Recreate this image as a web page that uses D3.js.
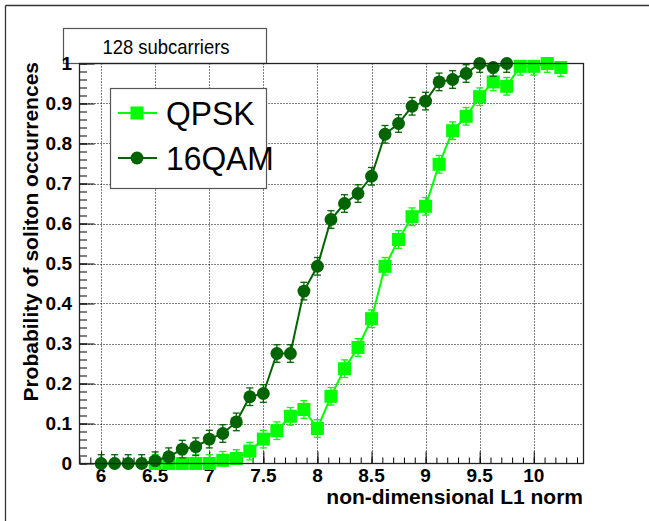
<!DOCTYPE html>
<html><head><meta charset="utf-8">
<script src="https://cdn.jsdelivr.net/npm/d3@7"></script>
<style>body{margin:0;background:#fff}svg{display:block}text{font-family:"Liberation Sans",Arial,Helvetica,sans-serif}</style>
</head><body><svg id="c" width="649" height="521"></svg>
<script>
const xQam16 = [6,6.125,6.25,6.375,6.5,6.625,6.75,6.875,7,7.125,7.25,7.375,7.5,7.625,7.75,7.875,8,8.125,8.25,8.375,8.5,8.625,8.75,8.875,9,9.125,9.25,9.375,9.5,9.625,9.75];
const yQam16 = [0,0,0,0,0.007,0.017,0.036,0.042,0.061,0.075,0.104,0.167,0.175,0.275,0.275,0.431,0.493,0.61,0.65,0.675,0.718,0.823,0.85,0.893,0.906,0.954,0.96,0.975,1.0,0.99,1.0];
const xQpsk = [6.5,6.625,6.75,6.875,7,7.125,7.25,7.375,7.5,7.625,7.75,7.875,8,8.125,8.25,8.375,8.5,8.625,8.75,8.875,9,9.125,9.25,9.375,9.5,9.625,9.75,9.875,10,10.125,10.25];
const yQpsk = [0,0,0,0,0,0.008,0.0125,0.031,0.061,0.082,0.118,0.135,0.0875,0.168,0.237,0.29,0.362,0.493,0.56,0.617,0.643,0.748,0.832,0.868,0.917,0.954,0.943,0.993,0.993,1.0,0.99];
const errBar = 0.022;
const xTicks = [6,6.5,7,7.5,8,8.5,9,9.5,10];
const xTickLabels = ["6","6.5","7","7.5","8","8.5","9","9.5","10"];
const yTicks = [0,0.1,0.2,0.3,0.4,0.5,0.6,0.7,0.8,0.9,1];
const yTickLabels = ["0","0.1","0.2","0.3","0.4","0.5","0.6","0.7","0.8","0.9","1"];
const seriesNames = ["QPSK","16QAM"];
const titleText = "128 subcarriers";
const xTitle = "non-dimensional L1 norm";
const yTitle = "Probability of soliton occurrences";

const svg = d3.select("#c");
const L = 79.5, R = 583.5, T = 63.5, B = 463.5;
const x = d3.scaleLinear().domain([5.8, 10.46]).range([L, R]);
const y = d3.scaleLinear().domain([0, 1]).range([B, T]);

// canvas border (top & left)
svg.append("line").attr("x1",5.5).attr("x2",649).attr("y1",5.5).attr("y2",5.5).attr("stroke","#333").attr("stroke-width",1.3);
svg.append("line").attr("x1",5.5).attr("x2",5.5).attr("y1",5.5).attr("y2",521).attr("stroke","#333").attr("stroke-width",1.3);

// title box
svg.append("rect").attr("x",63.5).attr("y",28.5).attr("width",203).attr("height",35).attr("fill","#fff").attr("stroke","#555").attr("stroke-width",1.2);
svg.append("text").attr("transform","translate(166,54) scale(0.9,1)").attr("text-anchor","middle").attr("font-size",20.5).text(titleText);

// grid
const grid = svg.append("g").attr("stroke","#000").attr("stroke-width",1).attr("stroke-dasharray","1,2");
xTicks.forEach(v=>grid.append("line").attr("x1",Math.round(x(v))+0.5).attr("x2",Math.round(x(v))+0.5).attr("y1",T).attr("y2",B));
yTicks.slice(1,-1).forEach(v=>grid.append("line").attr("x1",L).attr("x2",R).attr("y1",Math.round(y(v))+0.5).attr("y2",Math.round(y(v))+0.5));

// axes with d3
const xMinor = d3.range(58,105).map(i=>i/10).filter(v=>v>=5.8&&v<=10.46);
const yMinor = d3.range(0,51).map(i=>i/50);
const gx = svg.append("g").attr("transform",`translate(0,${B})`);
gx.call(d3.axisTop(x).tickValues(xMinor).tickSize(6).tickFormat(""));
gx.append("g").call(d3.axisTop(x).tickValues(xTicks).tickSize(12).tickFormat(""));
gx.selectAll(".domain").remove();
const gy = svg.append("g").attr("transform",`translate(${L},0)`);
gy.call(d3.axisRight(y).tickValues(yMinor).tickSize(7.5).tickFormat(""));
gy.append("g").call(d3.axisRight(y).tickValues(yTicks).tickSize(15).tickFormat(""));
gy.selectAll(".domain").remove();
svg.selectAll(".tick line").attr("stroke","#000").attr("stroke-width",1);

// tick labels
svg.append("g").selectAll("text").data(xTicks).join("text")
  .attr("x",d=>x(d)).attr("y",482).attr("text-anchor","middle")
  .attr("font-size",19).attr("font-weight","bold").text((d,i)=>xTickLabels[i]);
svg.append("g").selectAll("text").data(yTicks).join("text")
  .attr("x",72).attr("y",d=>y(d)+6.8).attr("text-anchor","end")
  .attr("font-size",19).attr("font-weight","bold").text((d,i)=>yTickLabels[i]);

// axis titles
svg.append("text").attr("x",583).attr("y",504).attr("text-anchor","end")
  .attr("font-size",21).attr("font-weight","bold").text(xTitle);
svg.append("text").attr("transform","translate(37.5,62) rotate(-90)").attr("text-anchor","end")
  .attr("font-size",21).attr("font-weight","bold").text(yTitle);

// series
const colQ = "#00ff00", col16 = "#006400";
function drawSeries(xs, ys, color, marker){
  const g = svg.append("g");
  const pts = xs.map((v,i)=>({x:v,y:ys[i]}));
  g.append("path").datum(pts).attr("fill","none").attr("stroke",color).attr("stroke-width",2)
    .attr("d",d3.line().x(d=>x(d.x)).y(d=>y(d.y)));
  const eb = g.append("g").attr("stroke",color).attr("stroke-width",1.3);
  pts.forEach(p=>{
    const lo = Math.max(0,p.y-errBar), hi = Math.min(1,p.y+errBar);
    eb.append("line").attr("x1",x(p.x)).attr("x2",x(p.x)).attr("y1",y(lo)).attr("y2",y(hi));
    if (hi>p.y) eb.append("line").attr("x1",x(p.x)-3.5).attr("x2",x(p.x)+3.5).attr("y1",y(hi)).attr("y2",y(hi));
    if (lo<p.y) eb.append("line").attr("x1",x(p.x)-3.5).attr("x2",x(p.x)+3.5).attr("y1",y(lo)).attr("y2",y(lo));
  });
  const sym = d3.symbol().type(marker==="square"?d3.symbolSquare:d3.symbolCircle).size(marker==="square"?170:130);
  g.selectAll("path.m").data(pts).join("path").attr("class","m")
    .attr("transform",d=>`translate(${x(d.x)},${y(d.y)})`).attr("d",sym).attr("fill",color);
}
drawSeries(xQpsk, yQpsk, colQ, "square");
drawSeries(xQam16, yQam16, col16, "circle");

// frame
svg.append("rect").attr("x",L).attr("y",T).attr("width",R-L).attr("height",B-T)
  .attr("fill","none").attr("stroke","#222").attr("stroke-width",1.3);

// legend
const lg = svg.append("g");
lg.append("rect").attr("x",110.5).attr("y",88.5).attr("width",156).attr("height",100).attr("fill","#fff").attr("stroke","#555").attr("stroke-width",1.2);
const legItems = [{name:seriesNames[0],color:colQ,marker:"square",cy:113},{name:seriesNames[1],color:col16,marker:"circle",cy:158}];
legItems.forEach(it=>{
  lg.append("line").attr("x1",118).attr("x2",157).attr("y1",it.cy).attr("y2",it.cy).attr("stroke",it.color).attr("stroke-width",2);
  lg.append("path").attr("transform",`translate(137,${it.cy})`)
    .attr("d",d3.symbol().type(it.marker==="square"?d3.symbolSquare:d3.symbolCircle).size(it.marker==="square"?170:130)())
    .attr("fill",it.color);
  lg.append("text").attr("transform",`translate(166,${it.cy+12}) scale(0.95,1)`).attr("font-size",33.5).text(it.name);
});
</script></body></html>
